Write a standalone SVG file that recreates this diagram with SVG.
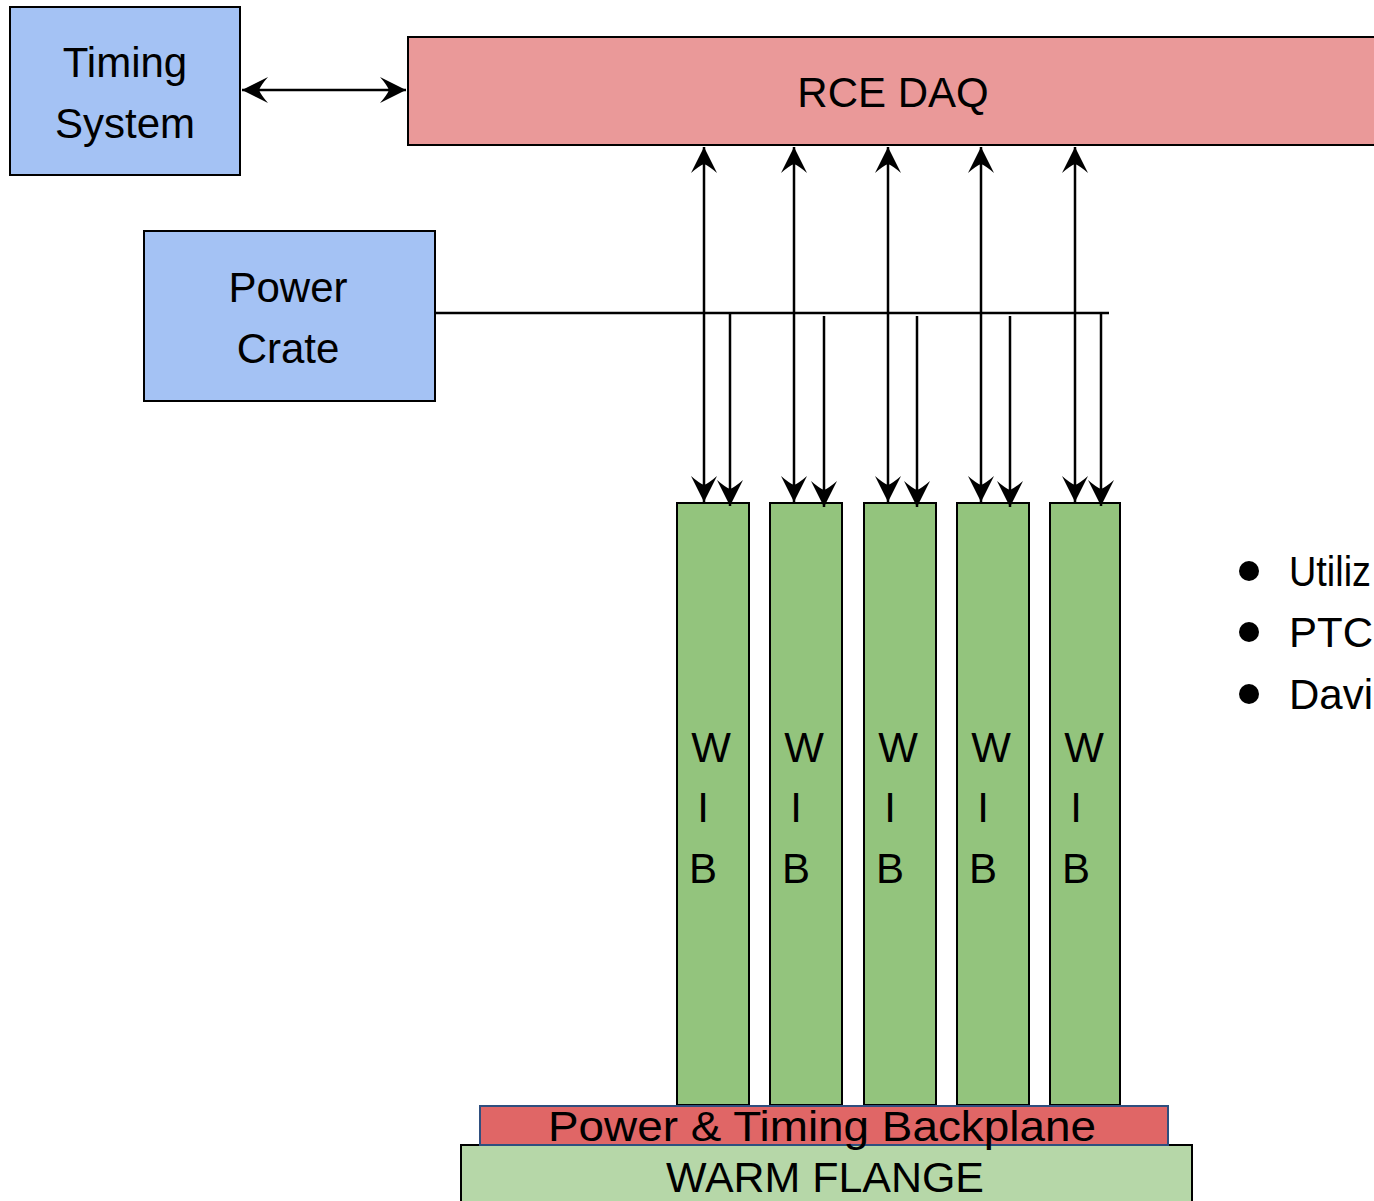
<svg xmlns="http://www.w3.org/2000/svg" width="1374" height="1201" viewBox="0 0 1374 1201">
  <style>
    .lbl { font-family: "Liberation Sans", "Noto Sans", Arial, sans-serif; font-size: 42px; fill: #000; text-anchor: middle; }
    .bul { font-family: "Liberation Sans", "Noto Sans", Arial, sans-serif; font-size: 42px; fill: #000; }
    .blue { fill: #a4c2f4; stroke: #000; stroke-width: 2; }
    .daq { fill: #ea9999; stroke: #000; stroke-width: 2; }
    .wib { fill: #93c47d; stroke: #000; stroke-width: 2; }
    .bp { fill: #e06666; stroke: #2f4f7f; stroke-width: 2; }
    .fl { fill: #b6d7a8; stroke: #000; stroke-width: 2; }
    .wire { stroke: #000; stroke-width: 2.5; fill: none; }
  </style>
  <defs>
    <marker id="head" markerUnits="userSpaceOnUse" markerWidth="30" markerHeight="30" viewBox="-28 -15 30 30" refX="0" refY="0" orient="auto-start-reverse">
      <path d="M0,0 L-26,-13 Q-19,-5 -17,0 Q-19,5 -26,13 Z" fill="#000"/>
    </marker>
  </defs>

  <g id="timing-system">
    <rect class="blue" x="10" y="7" width="230" height="168"/>
    <text class="lbl" x="125" y="77">Timing</text>
    <text class="lbl" x="125" y="138">System</text>
  </g>

  <g id="rce-daq">
    <rect class="daq" x="408" y="37" width="980" height="108"/>
    <text class="lbl" x="893" y="107">RCE DAQ</text>
  </g>

  <g id="power-crate">
    <rect class="blue" x="144" y="231" width="291" height="170"/>
    <text class="lbl" x="288" y="302">Power</text>
    <text class="lbl" x="288" y="363">Crate</text>
  </g>

  <g id="wib-1">
    <rect class="wib" x="677" y="503" width="72" height="602"/>
    <text class="lbl" x="711" y="762">W</text>
    <text class="lbl" x="703" y="822">I</text>
    <text class="lbl" x="703" y="883">B</text>
  </g>
  <g id="wib-2">
    <rect class="wib" x="770" y="503" width="72" height="602"/>
    <text class="lbl" x="804" y="762">W</text>
    <text class="lbl" x="796" y="822">I</text>
    <text class="lbl" x="796" y="883">B</text>
  </g>
  <g id="wib-3">
    <rect class="wib" x="864" y="503" width="72" height="602"/>
    <text class="lbl" x="898" y="762">W</text>
    <text class="lbl" x="890" y="822">I</text>
    <text class="lbl" x="890" y="883">B</text>
  </g>
  <g id="wib-4">
    <rect class="wib" x="957" y="503" width="72" height="602"/>
    <text class="lbl" x="991" y="762">W</text>
    <text class="lbl" x="983" y="822">I</text>
    <text class="lbl" x="983" y="883">B</text>
  </g>
  <g id="wib-5">
    <rect class="wib" x="1050" y="503" width="70" height="602"/>
    <text class="lbl" x="1084" y="762">W</text>
    <text class="lbl" x="1076" y="822">I</text>
    <text class="lbl" x="1076" y="883">B</text>
  </g>

  <g id="warm-flange">
    <rect class="fl" x="461" y="1145" width="731" height="70"/>
    <text class="lbl" x="825" y="1192" textLength="318" lengthAdjust="spacingAndGlyphs">WARM FLANGE</text>
  </g>

  <!-- backplane drawn after the flange so its label's descenders overlap it -->
  <g id="backplane">
    <rect class="bp" x="480" y="1106" width="688" height="39"/>
    <text class="lbl" x="822" y="1141" textLength="548" lengthAdjust="spacingAndGlyphs">Power &amp; Timing Backplane</text>
  </g>

  <g id="notes">
    <circle cx="1249" cy="571" r="10" fill="#000"/>
    <circle cx="1249" cy="632" r="10" fill="#000"/>
    <circle cx="1249" cy="694" r="10" fill="#000"/>
    <text class="bul" x="1289" y="586" textLength="82" lengthAdjust="spacingAndGlyphs">Utiliz</text>
    <text class="bul" x="1289" y="647">PTC</text>
    <text class="bul" x="1289" y="709">Davi</text>
  </g>

  <g id="connectors">
    <!-- timing link -->
    <line class="wire" x1="242" y1="90" x2="406" y2="90" marker-start="url(#head)" marker-end="url(#head)"/>
    <!-- DAQ data links -->
    <line class="wire" x1="704" y1="147" x2="704" y2="502" marker-start="url(#head)" marker-end="url(#head)"/>
    <line class="wire" x1="794" y1="147" x2="794" y2="502" marker-start="url(#head)" marker-end="url(#head)"/>
    <line class="wire" x1="888" y1="147" x2="888" y2="502" marker-start="url(#head)" marker-end="url(#head)"/>
    <line class="wire" x1="981" y1="147" x2="981" y2="502" marker-start="url(#head)" marker-end="url(#head)"/>
    <line class="wire" x1="1075" y1="147" x2="1075" y2="502" marker-start="url(#head)" marker-end="url(#head)"/>
    <!-- power bus -->
    <line class="wire" x1="435" y1="313" x2="1109" y2="313"/>
    <line class="wire" x1="730" y1="313" x2="730" y2="506" marker-end="url(#head)"/>
    <line class="wire" x1="824" y1="316" x2="824" y2="507" marker-end="url(#head)"/>
    <line class="wire" x1="917" y1="316" x2="917" y2="507" marker-end="url(#head)"/>
    <line class="wire" x1="1010" y1="316" x2="1010" y2="507" marker-end="url(#head)"/>
    <line class="wire" x1="1101" y1="313" x2="1101" y2="506" marker-end="url(#head)"/>
  </g>
</svg>
